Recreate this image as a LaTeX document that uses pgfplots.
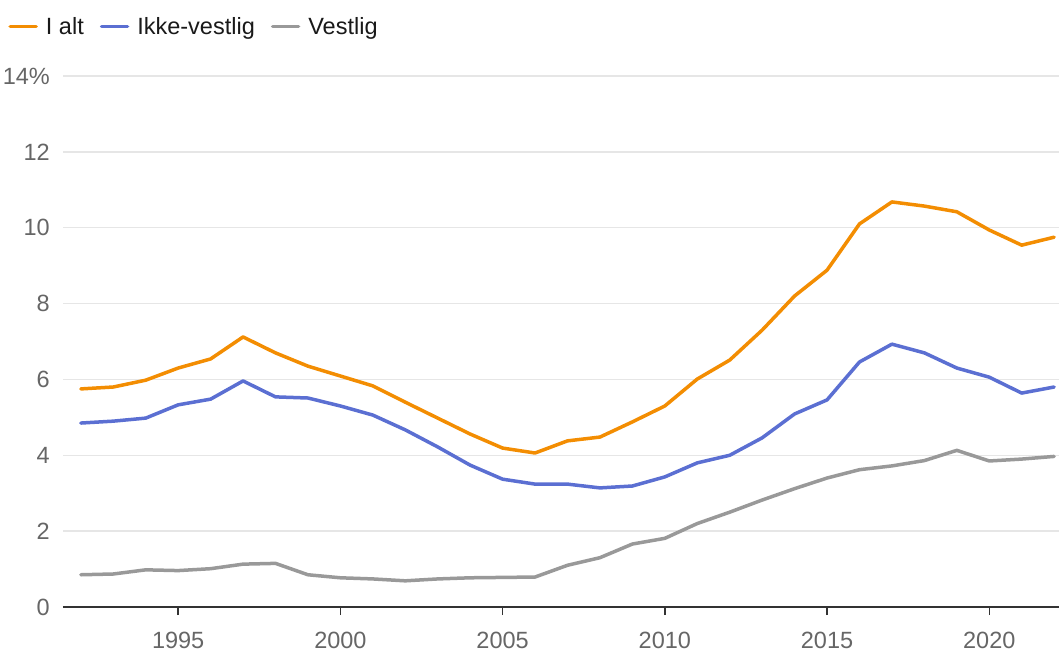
\documentclass[border=0pt]{standalone}
\usepackage{fontspec}
\setmainfont{Liberation Sans}
\usepackage{pgfplots}
\pgfplotsset{compat=1.18}
\definecolor{ialt}{RGB}{243,141,2}
\definecolor{ikke}{RGB}{91,111,210}
\definecolor{vest}{RGB}{153,153,153}
\definecolor{ticktext}{RGB}{102,102,102}
\definecolor{gridc}{RGB}{230,230,230}

\begin{document}
\begin{tikzpicture}[x=1pt,y=1pt]
\useasboundingbox (0,0) rectangle (1059,653);
\begin{axis}[
    at={(63pt,46pt)}, anchor=south west,
    scale only axis,
    width=996pt, height=531pt,
    xmin=1991.45, xmax=2022.15,
    ymin=0, ymax=14,
    axis x line*=bottom,
    axis y line*=left,
    y axis line style={draw=none},
    x axis line style={draw=black!80, line width=1.5pt},
    xtick={1995,2000,2005,2010,2015,2020},
    ytick={0,2,4,6,8,10,12,14},
    yticklabels={0,2,4,6,8,10,12,14\%},
    tick align=outside,
    major tick length=8pt,
    xtick style={draw=black!80, line width=1.5pt},
    ytick style={draw=none},
    /pgf/number format/set thousands separator={},
    /pgf/number format/assume math mode=true,
    xticklabel style={font=\fontsize{23.5}{26}\selectfont, text=ticktext, inner sep=0pt, anchor=north, yshift=-17pt},
    yticklabel style={font=\fontsize{23.5}{26}\selectfont, text=ticktext, inner sep=0pt, anchor=east, xshift=-5pt},
    ymajorgrids,
    major grid style={draw=gridc, line width=1.5pt},
    legend columns=3,
    legend style={at={(axis description cs:-0.055,1.093)}, anchor=west, draw=none, fill=none,
        font=\fontsize{23.5}{26}\selectfont, text=black!90, inner sep=0pt,
        nodes={inner sep=0pt},
        /tikz/every odd column/.append style={column sep=8pt},
        /tikz/every even column/.append style={column sep=16pt}},
    legend image code/.code={\draw[#1, line cap=round] (0pt,0pt) -- (26pt,0pt);},
    every axis plot/.append style={line width=3.5pt, line join=round, line cap=round},
]
\addplot[color=ialt] coordinates {
(1992,5.75) (1993,5.80) (1994,5.98) (1995,6.30) (1996,6.54) (1997,7.12)
(1998,6.70) (1999,6.35) (2000,6.09) (2001,5.83) (2002,5.40) (2003,4.98)
(2004,4.56) (2005,4.19) (2006,4.06) (2007,4.38) (2008,4.48) (2009,4.88)
(2010,5.30) (2011,6.01) (2012,6.51) (2013,7.30) (2014,8.20) (2015,8.88)
(2016,10.10) (2017,10.68) (2018,10.57) (2019,10.42) (2020,9.94) (2021,9.54) (2022,9.75)
};
\addlegendentry{I alt}
\addplot[color=ikke] coordinates {
(1992,4.85) (1993,4.90) (1994,4.98) (1995,5.33) (1996,5.48) (1997,5.96)
(1998,5.54) (1999,5.51) (2000,5.30) (2001,5.06) (2002,4.67) (2003,4.22)
(2004,3.74) (2005,3.37) (2006,3.24) (2007,3.24) (2008,3.14) (2009,3.19)
(2010,3.43) (2011,3.80) (2012,4.00) (2013,4.46) (2014,5.09) (2015,5.46)
(2016,6.46) (2017,6.93) (2018,6.70) (2019,6.30) (2020,6.06) (2021,5.64) (2022,5.80)
};
\addlegendentry{Ikke-vestlig}
\addplot[color=vest] coordinates {
(1992,0.85) (1993,0.87) (1994,0.98) (1995,0.96) (1996,1.01) (1997,1.13)
(1998,1.15) (1999,0.85) (2000,0.77) (2001,0.74) (2002,0.69) (2003,0.74)
(2004,0.77) (2005,0.78) (2006,0.79) (2007,1.10) (2008,1.30) (2009,1.66)
(2010,1.81) (2011,2.20) (2012,2.50) (2013,2.82) (2014,3.12) (2015,3.40)
(2016,3.62) (2017,3.72) (2018,3.86) (2019,4.13) (2020,3.85) (2021,3.90) (2022,3.97)
};
\addlegendentry{Vestlig}
\end{axis}
\end{tikzpicture}
\end{document}
